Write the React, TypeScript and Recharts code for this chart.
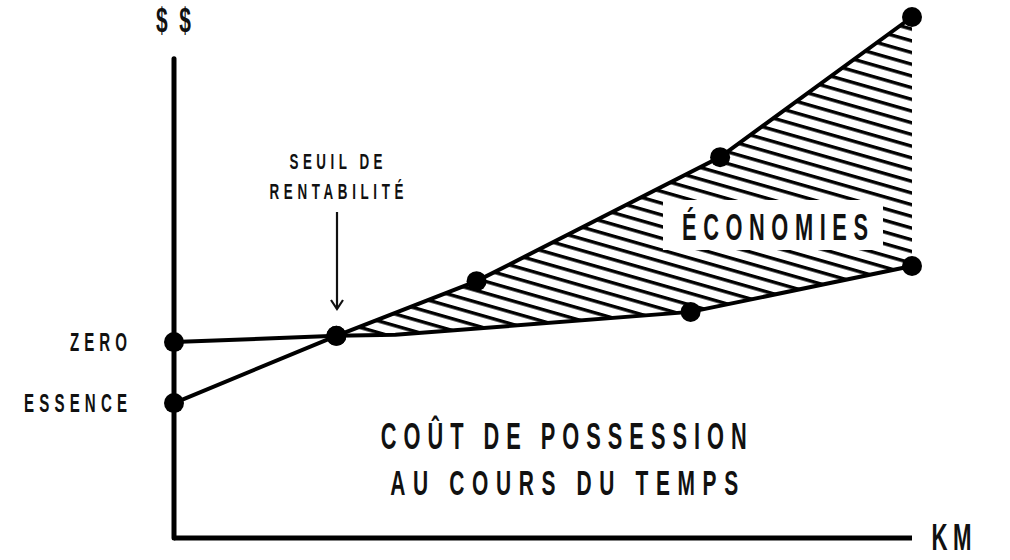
import React from 'react';
import {
  Area,
  ComposedChart,
  Line,
  ReferenceLine,
  XAxis,
  YAxis,
} from 'recharts';

// kilométrage (milliers) et coût cumulé (unités arbitraires)
const zeroKm = [0, 44, 60, 140, 200];
const zeroCost = [37.6, 38.8, 39.0, 43.4, 52.2];
const zeroMarked = [true, true, false, true, true];

const essenceKm = [0, 44, 82, 148, 200];
const essenceCost = [25.9, 38.8, 49.3, 73.1, 100];

// bande hachurée "économies" entre les deux courbes
const savingsKm = [44, 60, 82, 140, 148, 200];
const savingsLow = [38.8, 39.0, 40.2, 43.4, 44.6, 52.2];
const savingsHigh = [38.8, 43.4, 49.3, 70.0, 73.1, 100];

const startLabels = ['ZERO', 'ESSENCE'];
const yAxisTop = 92;

const zeroData = zeroKm.map((km, i) => ({ km, cost: zeroCost[i] }));
const essenceData = essenceKm.map((km, i) => ({ km, cost: essenceCost[i] }));
const savingsData = savingsKm.map((km, i) => ({
  km,
  range: [savingsLow[i], savingsHigh[i]],
}));
const startTicks = [zeroCost[0], essenceCost[0]];

const INK = '#111';
const FONT = "'Liberation Sans', Arial, sans-serif";

type CaptionProps = {
  x: number;
  y: number;
  width: number;
  cap: number;
  text: string;
  anchor?: 'start' | 'middle' | 'end';
  sx?: number;
};

// texte condensé : police grasse compressée horizontalement, espacement forcé
const Caption = ({ x, y, width, cap, text, anchor = 'middle', sx = 0.6 }: CaptionProps) => (
  <text
    transform={`translate(${x} ${y}) scale(${sx} 1)`}
    fontSize={cap / 0.716}
    fontFamily={FONT}
    fontWeight={700}
    textAnchor={anchor}
    textLength={width / sx}
    lengthAdjust='spacing'
    fill={INK}
  >
    {text}
  </text>
);

const StartTick = (props: any) => {
  const { x, y, payload } = props;
  const label = startLabels[startTicks.indexOf(payload.value)];
  const width = label === 'ZERO' ? 57 : 103;
  return <Caption x={x} y={y + 9} width={width} cap={18} text={label} anchor='end' />;
};

const zeroDot = (props: any) => {
  const { cx, cy, index } = props;
  if (!zeroMarked[index]) return <g key={`z${index}`} />;
  return <circle key={`z${index}`} cx={cx} cy={cy} r={10} fill='#000' />;
};

export default function App() {
  return (
    <div style={{ position: 'absolute', left: 0, top: 0, width: 1010, height: 560 }}>
      <svg width={0} height={0} style={{ position: 'absolute' }}>
        <defs>
          <pattern
            id='hatch'
            patternUnits='userSpaceOnUse'
            width={12}
            height={11.25}
            patternTransform='rotate(16)'
          >
            <rect x={0} y={0} width={12} height={3.4} fill='#000' />
          </pattern>
        </defs>
      </svg>

      <ComposedChart
        width={1010}
        height={560}
        margin={{ top: 17, right: 98, bottom: 0, left: 0 }}
      >
        <XAxis
          dataKey='km'
          type='number'
          domain={[0, 200]}
          height={22}
          tick={false}
          tickLine={false}
          axisLine={{ stroke: '#000', strokeWidth: 5 }}
        />
        <YAxis
          type='number'
          domain={[0, 100]}
          width={174}
          ticks={startTicks}
          interval={0}
          tickSize={0}
          tickMargin={47}
          tickLine={false}
          axisLine={false}
          tick={<StartTick />}
        />

        <Area
          data={savingsData}
          dataKey='range'
          type='linear'
          stroke='none'
          fill='url(#hatch)'
          fillOpacity={1}
          isAnimationActive={false}
        />

        <ReferenceLine
          segment={[
            { x: 0, y: 0 },
            { x: 0, y: yAxisTop },
          ]}
          stroke='#000'
          strokeWidth={5}
          strokeLinecap='round'
          ifOverflow='visible'
        />

        <Line
          data={zeroData}
          dataKey='cost'
          type='linear'
          stroke='#000'
          strokeWidth={4}
          dot={zeroDot}
          activeDot={false}
          isAnimationActive={false}
        />
        <Line
          data={essenceData}
          dataKey='cost'
          type='linear'
          stroke='#000'
          strokeWidth={4}
          dot={{ r: 10, fill: '#000', stroke: 'none' }}
          activeDot={false}
          isAnimationActive={false}
        />
      </ComposedChart>

      <svg
        width={1010}
        height={560}
        style={{ position: 'absolute', left: 0, top: 0, pointerEvents: 'none' }}
      >
        <Caption x={173.5} y={32} width={35} cap={25} text='$$' />
        <Caption x={951.5} y={550} width={40} cap={26.5} text='KM' />

        <Caption x={336} y={169} width={93} cap={16} text='SEUIL DE' />
        <Caption x={336.5} y={198.5} width={134} cap={16} text='RENTABILITÉ' />
        <g stroke={INK} strokeWidth={2.2} fill='none'>
          <line x1={337} y1={212} x2={337} y2={309} />
          <polyline points='331,300 337,309 343,300' />
        </g>

        <rect x={663} y={200} width={220} height={50} fill='#fff' />
        <Caption x={775} y={239.5} width={186} cap={26} text='ÉCONOMIES' />

        <Caption x={563.7} y={449.3} width={366} cap={26} text='COÛT DE POSSESSION' />
        <Caption x={564.2} y={495} width={348} cap={25} text='AU COURS DU TEMPS' />
      </svg>
    </div>
  );
}
